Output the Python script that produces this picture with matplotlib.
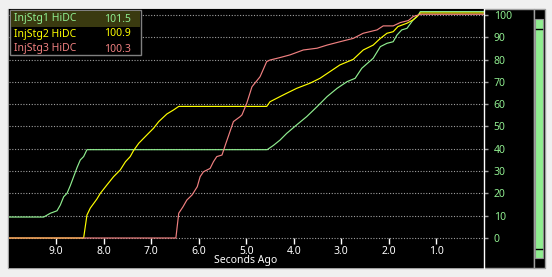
import matplotlib
matplotlib.use("Agg")
import matplotlib.pyplot as plt
from matplotlib.patches import Rectangle

# Seconds ago / value pairs
stg1_t = [10.0, 9.26, 9.12, 8.98, 8.91, 8.84, 8.77, 8.70, 8.63, 8.56, 8.49, 8.42, 8.35,
          4.56, 4.43, 4.29, 4.15, 3.94, 3.73, 3.51, 3.30, 3.09, 2.88, 2.71, 2.57, 2.33,
          2.18, 2.04, 1.91, 1.83, 1.73, 1.62, 1.49, 1.38, 1.34, 0.0]
stg1_v = [9.4, 9.4, 11.1, 12.2, 14.8, 18.5, 20.0, 23.5, 27.5, 31.5, 35.0, 36.5, 39.6,
          39.6, 41.5, 43.9, 46.9, 50.7, 54.4, 58.9, 63.4, 67.1, 70.1, 71.6, 76.1, 80.6,
          85.8, 87.3, 88.0, 91.0, 93.3, 94.0, 97.8, 100.0, 101.5, 101.5]

stg2_t = [10.0, 8.42, 8.35, 8.28, 8.14, 8.07, 7.93, 7.79, 7.65, 7.54, 7.44, 7.37, 7.26,
          7.09, 6.95, 6.84, 6.67, 6.53, 6.42, 4.57, 4.50, 4.29, 4.15, 3.94, 3.66, 3.45,
          3.24, 3.03, 2.75, 2.54, 2.33, 2.18, 2.04, 1.91, 1.81, 1.62, 1.49, 1.41, 1.34, 0.0]
stg2_v = [0.0, 0.0, 10.3, 13.4, 17.5, 20.0, 23.8, 27.5, 30.5, 34.2, 36.5, 39.2, 42.5,
          46.2, 49.2, 52.2, 55.6, 57.4, 59.0, 59.0, 61.1, 63.4, 64.9, 67.1, 69.4, 71.6,
          74.6, 77.6, 80.1, 84.3, 86.5, 89.5, 91.8, 92.5, 94.8, 96.3, 97.8, 99.2, 100.9, 100.9]

stg3_t = [10.0, 6.48, 6.42, 6.33, 6.25, 6.14, 6.03, 5.97, 5.90, 5.76, 5.69, 5.62, 5.51,
          5.44, 5.37, 5.27, 5.13, 5.09, 4.99, 4.88, 4.71, 4.57, 4.50, 4.29, 4.08, 3.80,
          3.51, 3.30, 3.03, 2.75, 2.54, 2.25, 2.12, 1.91, 1.76, 1.59, 1.49, 1.38, 1.34, 0.0]
stg3_v = [0.0, 0.0, 11.1, 14.0, 17.0, 19.3, 23.0, 27.5, 29.7, 31.2, 34.2, 36.5, 37.2,
          41.7, 46.0, 52.2, 54.4, 55.2, 60.4, 67.8, 72.3, 79.1, 79.8, 80.9, 82.1, 84.3,
          85.1, 86.5, 88.0, 89.5, 91.8, 93.3, 95.1, 95.1, 96.6, 97.5, 99.3, 100.0, 100.3, 100.3]

names = ["InjStg1 HiDC", "InjStg2 HiDC", "InjStg3 HiDC"]
current = ["101.5", "100.9", "100.3"]
colors = ["#90ee90", "#ffff00", "#f08080"]

x_ticks = [9.0, 8.0, 7.0, 6.0, 5.0, 4.0, 3.0, 2.0, 1.0]
y_ticks = [0, 10, 20, 30, 40, 50, 60, 70, 80, 90, 100]

W, H = 552, 277
FONT = "Noto Sans"
plt.rcParams["font.family"] = [FONT, "DejaVu Sans"]


def fx(px):
    return px / W


def fy(py):
    return 1 - py / H


fig = plt.figure(figsize=(W / 100, H / 100), dpi=100, facecolor="#f0f0f0")

# frame panels behind the axes
fig.add_artist(Rectangle((fx(8), fy(268)), fx(533.5) - fx(8), fy(8.5) - fy(268),
                         transform=fig.transFigure, facecolor="black",
                         edgecolor="#a0a0a0", lw=1, zorder=0))
fig.add_artist(Rectangle((fx(533.5), fy(268)), fx(544.5) - fx(533.5), fy(8.5) - fy(268),
                         transform=fig.transFigure, facecolor="black",
                         edgecolor="#a0a0a0", lw=1, zorder=0))
# level bar on the far right
fig.add_artist(Rectangle((fx(535), fy(258)), fx(542.5) - fx(535), fy(19) - fy(258),
                         transform=fig.transFigure, facecolor="#90ee90",
                         edgecolor="#909090", lw=0.8, zorder=1))
for py in [29, 249]:
    fig.add_artist(plt.Line2D([fx(535.5), fx(542)], [fy(py), fy(py)],
                              transform=fig.transFigure, color="black", lw=1, zorder=2))

ax = fig.add_axes([fx(8.5), fy(268), fx(484) - fx(8.5), fy(8.5) - fy(268)])
ax.set_facecolor("black")

for t, v, c in zip([stg1_t, stg2_t, stg3_t], [stg1_v, stg2_v, stg3_v], colors):
    ax.plot(t, v, color=c, lw=0.85)

ax.set_xlim(10, 0)
ax.set_ylim(-13.45, 102.9)

ax.set_xticks(x_ticks)
ax.set_xticklabels([f"{x:.1f}" for x in x_ticks])
ax.set_yticks(y_ticks)
ax.set_yticklabels([str(y) for y in y_ticks])

ax.yaxis.tick_right()
ax.grid(axis="y", color="#a0a0a0", linestyle=(0, (1, 1.5)), lw=0.8)
ax.set_axisbelow(True)

for s in ["left", "top"]:
    ax.spines[s].set_visible(False)
ax.spines["right"].set_color("white")
ax.spines["right"].set_linewidth(1)
ax.spines["bottom"].set_position(("data", 0))
ax.spines["bottom"].set_color("none")

ax.tick_params(axis="x", colors="white", direction="out", length=4, width=1,
               labelsize=7.5, pad=1.5)
ax.tick_params(axis="y", color="#a0a0a0", labelcolor="#90ee90", direction="out",
               length=3, width=1, labelsize=7.5, pad=4)

fig.text(fx(246), fy(261), "Seconds Ago", color="white", fontsize=7.5,
         ha="center", va="center")

# legend box with live values
fig.add_artist(Rectangle((fx(10), fy(55)), fx(141) - fx(10), fy(10) - fy(55),
                         transform=fig.transFigure, facecolor="black",
                         edgecolor="#808080", lw=1, zorder=5))
fig.add_artist(Rectangle((fx(11), fy(27)), fx(140) - fx(11), fy(11) - fy(27),
                         transform=fig.transFigure, facecolor="#3a3a10",
                         edgecolor="none", zorder=6))
for i, (n, val, c) in enumerate(zip(names, current, colors)):
    yy = fy(19 + 15 * i)
    fig.text(fx(14), yy, n, color=c, fontsize=7.5, ha="left", va="center", zorder=7)
    fig.text(fx(131), yy, val, color=c, fontsize=7.5, ha="right", va="center", zorder=7)

fig.savefig("out.png", dpi=100, facecolor=fig.get_facecolor())
